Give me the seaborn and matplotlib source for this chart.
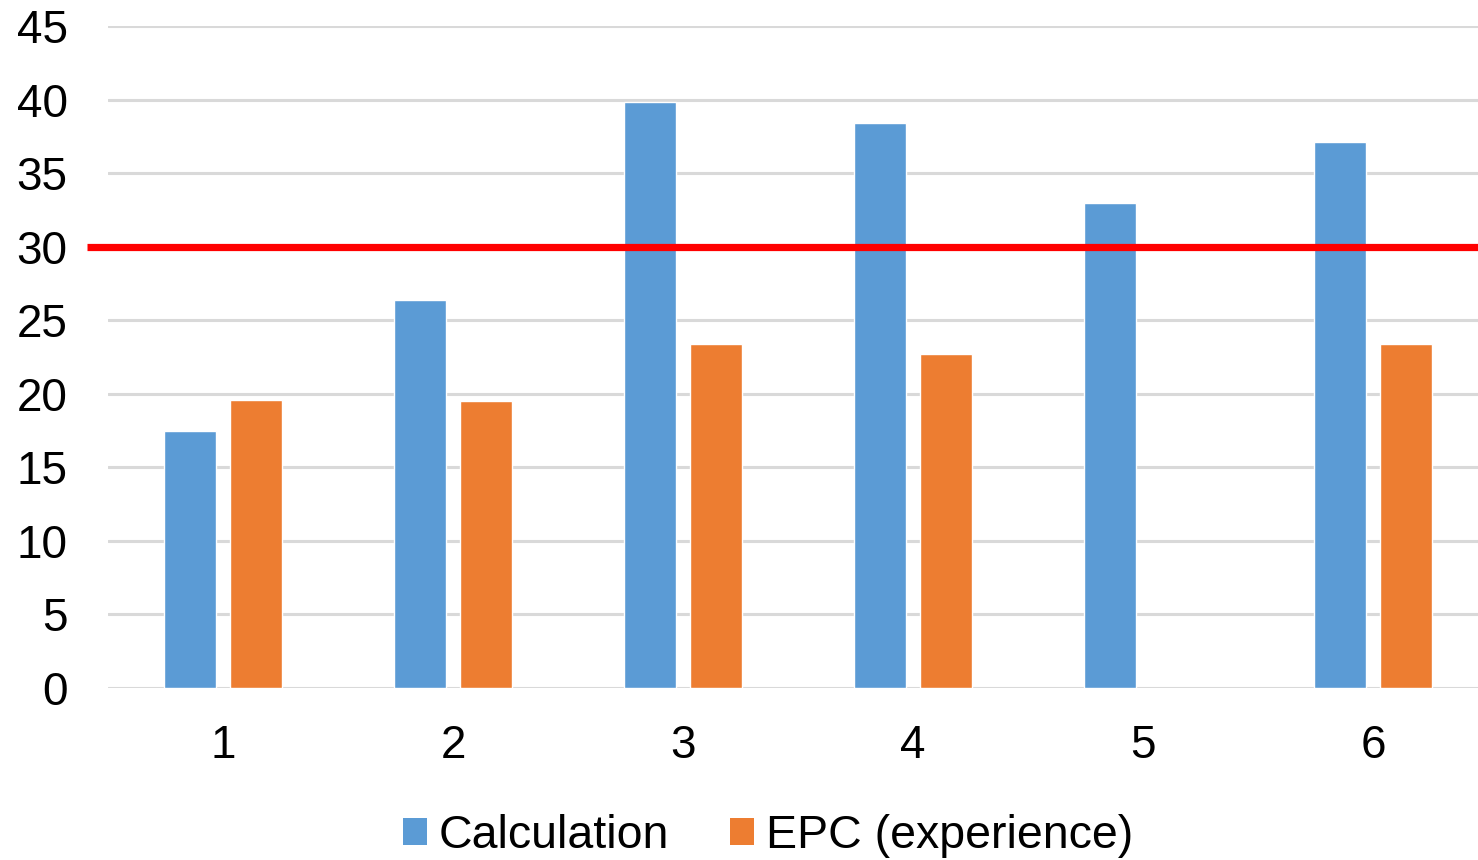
import numpy as np
import pandas as pd
import matplotlib
matplotlib.use("Agg")
import matplotlib.pyplot as plt
import seaborn as sns
from matplotlib.patches import Patch

# Data
cases = ["1", "2", "3", "4", "5", "6"]
calculation = [17.5, 26.4, 39.8, 38.4, 33.0, 37.1]
epc_experience = [19.6, 19.5, 23.4, 22.7, np.nan, 23.4]
series_names = ["Calculation", "EPC (experience)"]
threshold = 30
y_ticks = [0, 5, 10, 15, 20, 25, 30, 35, 40, 45]

colors = ["#5B9BD5", "#ED7D31"]

rows = []
for c, a, b in zip(cases, calculation, epc_experience):
    rows.append({"case": c, "series": series_names[0], "value": a})
    if not np.isnan(b):
        rows.append({"case": c, "series": series_names[1], "value": b})
df = pd.DataFrame(rows)

sns.set_theme(style="white")
plt.rcParams["font.family"] = ["Liberation Sans", "DejaVu Sans"]
plt.rcParams["text.color"] = "black"

W, H = 1478, 860
fig = plt.figure(figsize=(W / 100, H / 100), dpi=100)
ax = fig.add_axes([108 / W, (H - 688) / H, 1380 / W, (688 - 26) / H])

sns.barplot(
    data=df, x="case", y="value", hue="series",
    order=cases, hue_order=series_names, palette=colors,
    width=0.574, gap=0.226, errorbar=None, saturation=1,
    legend=False, ax=ax, zorder=3,
)

ax.set_xlim(-0.5, 5.5)
ax.set_ylim(0, 45)
ax.set_yticks(y_ticks)
ax.set_yticklabels([str(t) for t in y_ticks])
ax.yaxis.grid(True, color="#D9D9D9", linewidth=2.2, zorder=0)
ax.xaxis.grid(False)
ax.set_axisbelow(True)
for s in ax.spines.values():
    s.set_visible(False)
ax.set_xlabel("")
ax.set_ylabel("")
ax.tick_params(axis="y", length=0, pad=29, labelsize=33, labelcolor="black")
ax.tick_params(axis="x", length=0, pad=26, labelsize=33, labelcolor="black")

# Threshold line
ax.axhline(threshold, xmin=-21 / 1380, xmax=1, color="#FF0000",
           linewidth=5.2, clip_on=False, zorder=5, solid_capstyle="butt")

handles = [Patch(facecolor=c, edgecolor="none") for c in colors]
leg = fig.legend(handles, series_names, loc="center",
                 bbox_to_anchor=(768 / W, 1 - 836 / H), ncol=2, frameon=False,
                 fontsize=33.5, handlelength=0.52, handleheight=0.52,
                 handletextpad=0.25, columnspacing=1.3)
for t in leg.get_texts():
    t.set_color("black")

fig.savefig("out.png", dpi=100)
